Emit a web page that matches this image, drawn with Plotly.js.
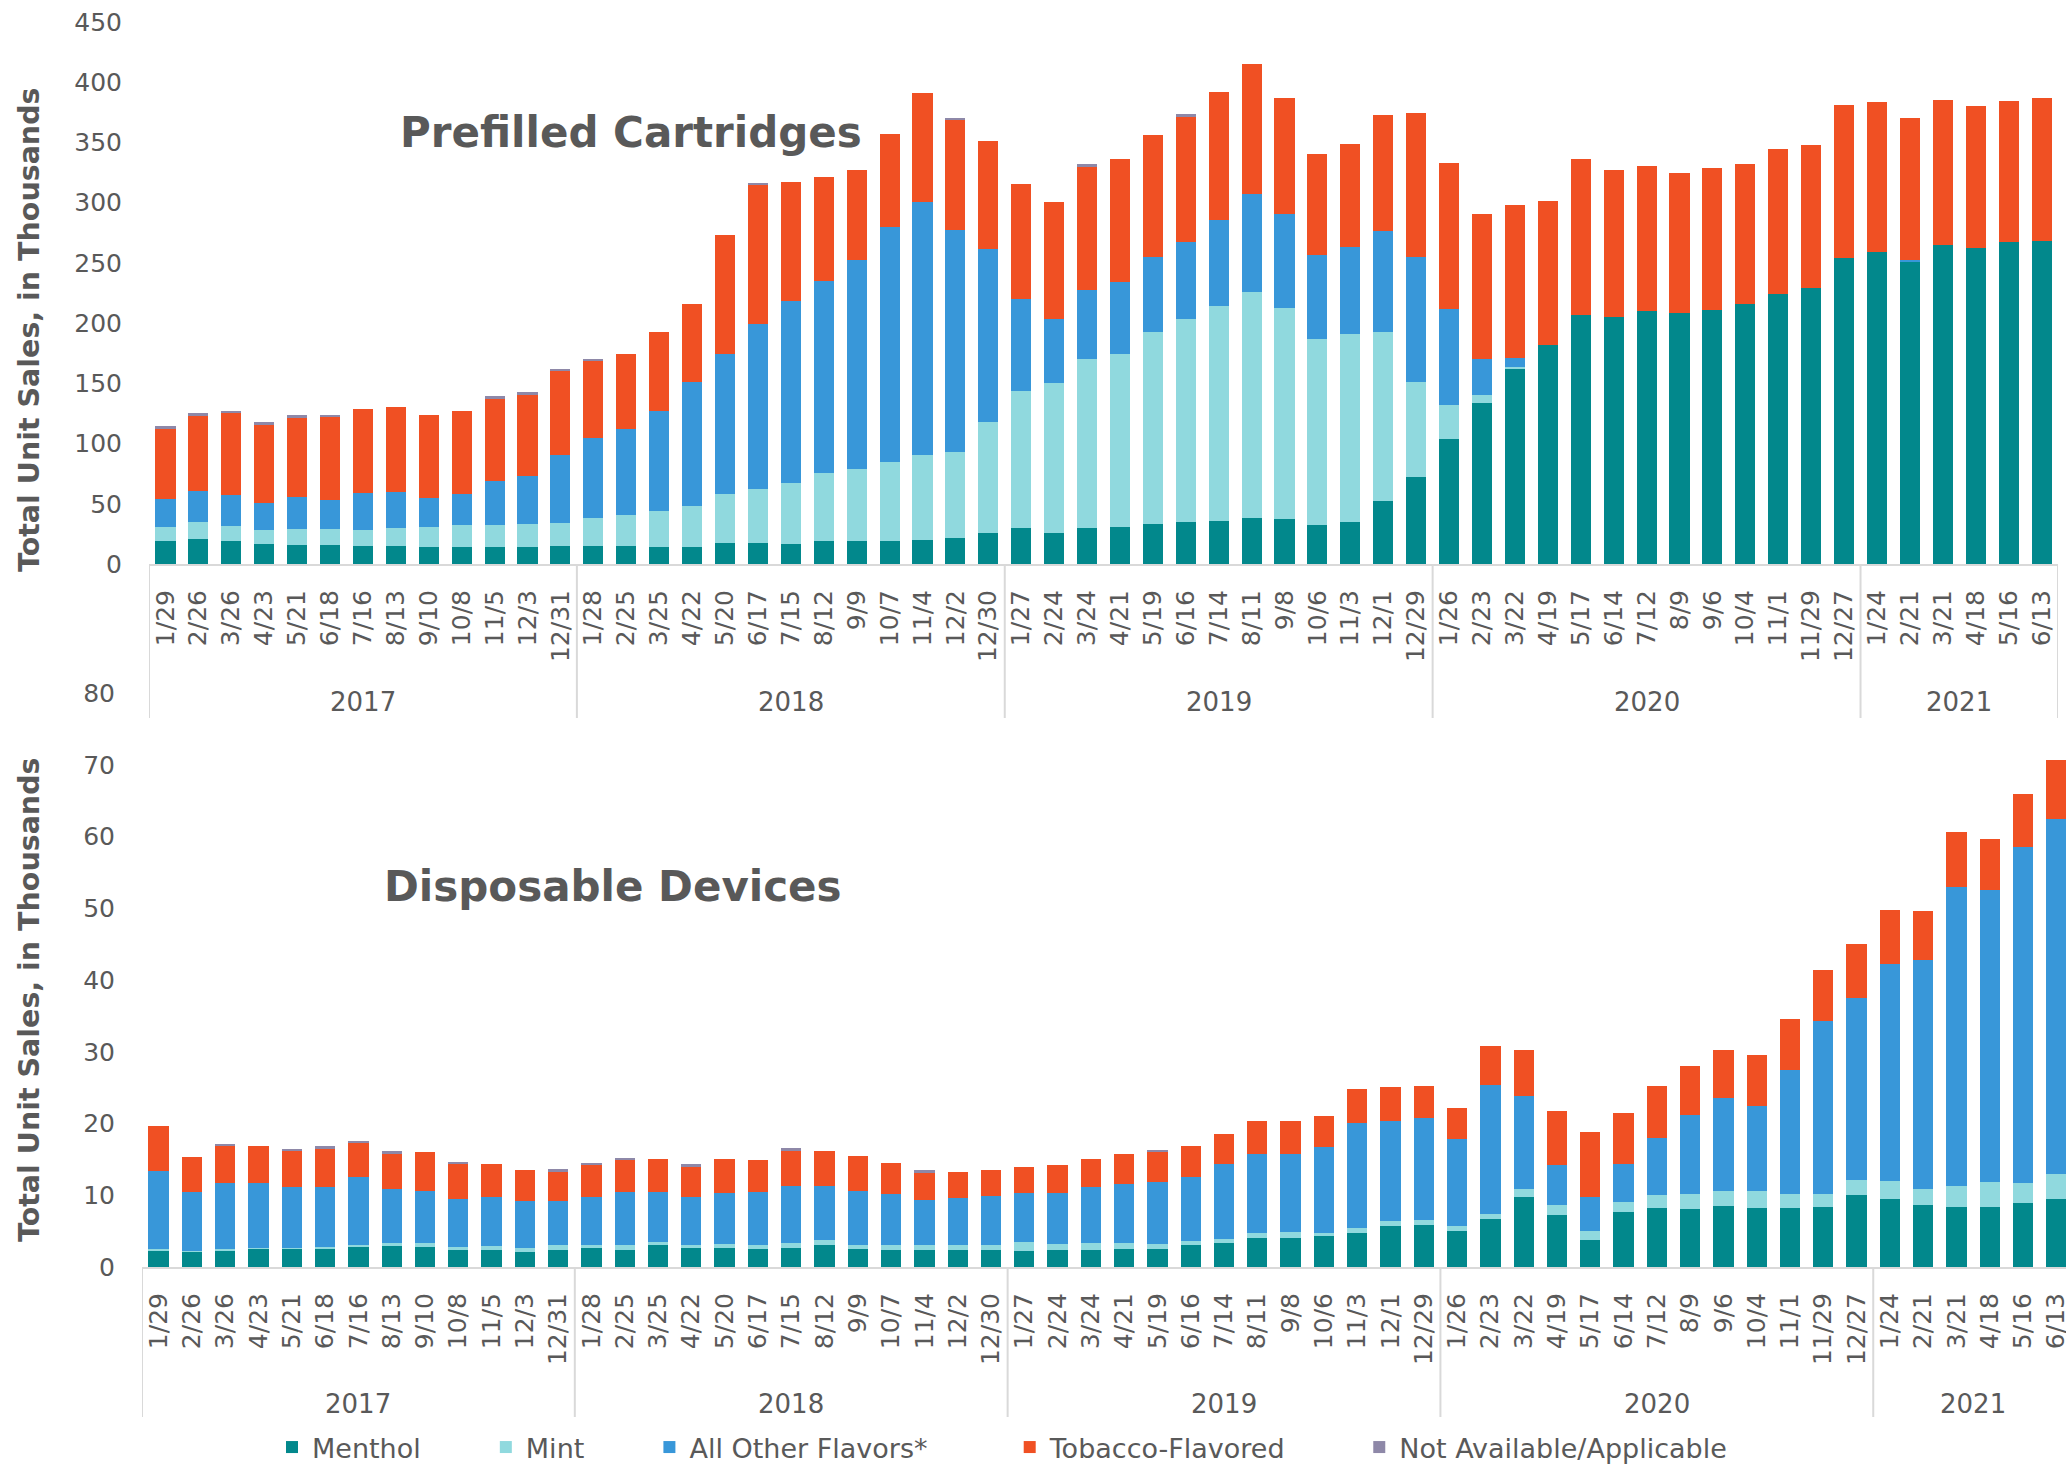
<!DOCTYPE html>
<html>
<head>
<meta charset="utf-8">
<script src="https://cdn.plot.ly/plotly-3.0.1.min.js"></script>
<style>
  html, body { margin: 0; padding: 0; overflow: hidden; background: #fff; width: 2066px; height: 1472px; }
  #wrap { width: 2066px; height: 1472px; overflow: hidden; position: relative; }
  #chart { width: 2080px; height: 1472px; position: absolute; left: 0; top: 0; }
</style>
</head>
<body>
<div id="wrap"><div id="chart"></div></div>
<script>
// ---- Data ----
const weeks = [
  '1/29','2/26','3/26','4/23','5/21','6/18','7/16','8/13','9/10','10/8','11/5','12/3','12/31',
  '1/28','2/25','3/25','4/22','5/20','6/17','7/15','8/12','9/9','10/7','11/4','12/2','12/30',
  '1/27','2/24','3/24','4/21','5/19','6/16','7/14','8/11','9/8','10/6','11/3','12/1','12/29',
  '1/26','2/23','3/22','4/19','5/17','6/14','7/12','8/9','9/6','10/4','11/1','11/29','12/27',
  '1/24','2/21','3/21','4/18','5/16','6/13'
];
const years = ['2017','2018','2019','2020','2021'];
const yearCounts = [13, 13, 13, 13, 6];
const seriesNames = ['Menthol', 'Mint', 'All Other Flavors*', 'Tobacco-Flavored', 'Not Available/Applicable'];

// Prefilled Cartridges (thousands)
const pcMenthol = [
  19.1,21.0,19.5,16.8,15.6,16.0,14.9,14.9,14.5,14.5,14.5,14.5,15.3,
  14.9,14.9,14.5,14.5,17.5,17.2,16.4,19.1,18.7,19.5,20.2,21.4,25.9,
  30.1,25.9,29.7,30.5,33.2,34.7,35.5,38.1,37.0,32.4,35.1,51.9,72.1,
  103.7,133.9,162.1,181.5,207.1,205.2,209.8,208.6,210.9,215.5,223.9,229.2,254.4,
  259.3,251.3,264.7,262.0,267.7,268.5
];
const pcMint = [
  11.8,13.7,12.2,11.4,13.4,13.0,13.7,14.8,16.0,17.9,17.9,18.7,19.0,
  22.9,25.9,29.7,33.9,40.5,45.0,50.7,56.4,59.9,64.8,70.6,71.7,92.3,
  113.3,124.7,140.4,143.8,159.8,168.6,178.8,187.7,175.4,154.5,155.6,140.7,79.3,
  28.6,6.8,1.5,0,0,0,0,0,0,0,0,0,0,
  0,0,0,0,0,0
];
const pcOther = [
  22.9,26.3,25.5,22.5,26.3,24.0,30.5,29.8,24.0,26.0,36.6,40.0,56.1,
  67.1,71.3,83.2,102.6,116.3,136.9,151.1,159.4,173.5,195.6,209.7,183.8,143.1,
  77.0,52.7,57.6,59.9,61.8,64.4,71.4,81.6,78.6,69.4,72.5,83.9,103.4,
  79.4,29.4,7.3,0,0,0,0,0,0,0,0,0,0,
  0,1.2,0,0,0,0
];
const pcTobacco = [
  59.1,62.6,68.7,64.9,66.7,69.8,69.4,70.9,69.5,68.6,68.3,67.9,70.2,
  63.3,62.2,65.6,64.9,98.7,115.2,99.1,86.2,74.8,77.5,90.4,91.9,90.3,
  95.4,96.9,102.2,101.8,101.0,103.8,106.4,107.6,96.1,84.3,85.8,96.1,119.3,
  121.3,120.5,127.3,119.8,128.9,122.0,120.5,116.0,117.9,116.7,120.5,119.0,127.0,
  124.0,118.2,120.9,117.9,116.4,118.2
];
const pcNA = [
  1.5,1.5,1.5,1.9,1.6,1.2,0,0,0,0,2.3,1.5,1.5,
  1.9,0,0,0,0,1.9,0,0,0,0,0,1.5,0,
  0,0,1.9,0,0,2.3,0,0,0,0,0,0,0,
  0,0,0,0,0,0,0,0,0,0,0,0,0,
  0,0,0,0,0,0
];

// Disposable Devices (thousands)
const ddMenthol = [
  2.35,2.1,2.35,2.6,2.55,2.6,2.8,2.9,2.8,2.35,2.35,2.1,2.35,
  2.7,2.4,3.0,2.6,2.6,2.55,2.7,3.0,2.55,2.4,2.4,2.35,2.35,
  2.2,2.4,2.4,2.55,2.5,3.0,3.3,4.1,4.1,4.3,4.8,5.7,5.8,
  5.0,6.7,9.8,7.3,3.7,7.7,8.2,8.1,8.5,8.2,8.2,8.4,10.0,
  9.5,8.6,8.4,8.4,8.9,9.5
];
const ddMint = [
  0.15,0.2,0.1,0.1,0.1,0.15,0.3,0.4,0.5,0.45,0.55,0.5,0.65,
  0.3,0.6,0.5,0.4,0.6,0.45,0.7,0.7,0.45,0.6,0.6,0.65,0.75,
  1.3,0.8,0.9,0.75,0.7,0.6,0.6,0.7,0.8,0.5,0.7,0.7,0.8,
  0.7,0.7,1.1,1.3,1.3,1.3,1.9,2.1,2.1,2.4,2.0,1.8,2.1,
  2.5,2.3,2.9,3.5,2.8,3.5
];
const ddOther = [
  10.9,8.1,9.25,9.0,8.55,8.45,9.4,7.6,7.3,6.7,6.8,6.6,6.2,
  6.7,7.4,7.0,6.7,7.1,7.4,7.9,7.6,7.6,7.2,6.4,6.6,6.8,
  6.8,7.1,7.9,8.2,8.7,9.0,10.4,10.9,10.8,11.9,14.6,14.0,14.1,
  12.1,18.0,13.0,5.6,4.7,5.3,7.9,11.0,13.0,11.9,17.3,24.1,25.4,
  30.3,31.9,41.7,40.6,46.8,49.5
];
const ddTobacco = [
  6.3,4.9,5.1,5.2,5.0,5.3,4.8,4.9,5.4,4.8,4.7,4.3,4.1,
  4.5,4.5,4.6,4.3,4.8,4.5,4.9,4.9,4.9,4.3,3.7,3.6,3.6,
  3.6,3.9,3.9,4.3,4.1,4.2,4.3,4.7,4.6,4.4,4.7,4.7,4.5,
  4.3,5.4,6.4,7.6,9.1,7.1,7.2,6.8,6.7,7.1,7.0,7.1,7.5,
  7.5,6.8,7.6,7.1,7.4,8.1
];
const ddNA = [
  0,0,0.3,0,0.2,0.3,0.3,0.3,0,0.3,0,0,0.3,
  0.3,0.3,0,0.3,0,0,0.4,0,0,0,0.4,0,0,
  0,0,0,0,0.3,0,0,0,0,0,0,0,0,
  0,0,0,0,0,0,0,0,0,0,0,0,0,
  0,0,0,0,0,0
];

// ---- Styling ----
const colors = ['#02888C', '#90D9DE', '#3897D9', '#F05023', '#8E88A8'];
const FONT = 'DejaVu Sans, Verdana, sans-serif';
const TXT = '#595959';
const W = 2080, H = 1472;
const px = v => v / W;          // horizontal pixel -> paper
const py = v => 1 - v / H;      // vertical pixel -> paper
const nb = n => '\u00A0'.repeat(n);
const legendPad = [7, 7, 9, 8, 0];

const pcSeries = [pcMenthol, pcMint, pcOther, pcTobacco, pcNA];
const ddSeries = [ddMenthol, ddMint, ddOther, ddTobacco, ddNA];

const traces = [];
pcSeries.forEach((vals, i) => {
  traces.push({
    type: 'bar', x: weeks, y: vals, name: seriesNames[i],
    legendgroup: 'g' + i, showlegend: false,
    marker: { color: colors[i], line: { width: 0 } },
    xaxis: 'x', yaxis: 'y', hoverinfo: 'y+name'
  });
});
ddSeries.forEach((vals, i) => {
  traces.push({
    type: 'bar', x: weeks, y: vals,
    name: seriesNames[i] + nb(legendPad[i]),
    legendgroup: 'g' + i, showlegend: true,
    marker: { color: colors[i], line: { width: 0 } },
    xaxis: 'x2', yaxis: 'y2', hoverinfo: 'y+name'
  });
});

// Year group boundaries and centers, from yearCounts
const bounds = [-0.5];
const centers = [];
yearCounts.forEach((c, i) => {
  const start = bounds[i];
  bounds.push(start + c);
  centers.push(start + c / 2);
});

const shapes = [];
const annotations = [];
[['x', py(564), py(718), py(702)], ['x2', py(1267), py(1417), py(1404)]].forEach(([xr, y0, y1, ylab]) => {
  bounds.forEach(b => {
    shapes.push({ type: 'line', xref: xr, yref: 'paper', x0: b, x1: b, y0: y0, y1: y1,
      line: { color: '#D9D9D9', width: 2 } });
  });
  years.forEach((yr, i) => {
    annotations.push({ xref: xr, yref: 'paper', x: centers[i], y: ylab, text: yr,
      showarrow: false, xanchor: 'center', yanchor: 'middle',
      font: { family: FONT, size: 26, color: TXT } });
  });
});

// Chart titles
annotations.push({ xref: 'paper', yref: 'paper', x: px(631), y: py(132), text: 'Prefilled Cartridges',
  showarrow: false, xanchor: 'center', yanchor: 'middle',
  font: { family: FONT, size: 42, color: TXT, weight: 700 } });
annotations.push({ xref: 'paper', yref: 'paper', x: px(613), y: py(886), text: 'Disposable Devices',
  showarrow: false, xanchor: 'center', yanchor: 'middle',
  font: { family: FONT, size: 42, color: TXT, weight: 700 } });
// Y-axis titles
annotations.push({ xref: 'paper', yref: 'paper', x: px(29), y: py(330), text: 'Total Unit Sales, in Thousands',
  showarrow: false, textangle: -90, xanchor: 'center', yanchor: 'middle',
  font: { family: FONT, size: 28.5, color: TXT, weight: 700 } });
annotations.push({ xref: 'paper', yref: 'paper', x: px(29), y: py(1000), text: 'Total Unit Sales, in Thousands',
  showarrow: false, textangle: -90, xanchor: 'center', yanchor: 'middle',
  font: { family: FONT, size: 28.5, color: TXT, weight: 700 } });

const xCommon = {
  type: 'category', range: [-0.5, weeks.length - 0.5],
  showline: true, linecolor: '#D9D9D9', linewidth: 2,
  showgrid: false, zeroline: false, ticks: '', tickangle: -90,
  ticklabelstandoff: 14,
  tickfont: { family: FONT, size: 25, color: TXT }, fixedrange: true
};
const yCommon = {
  showline: false, showgrid: false, zeroline: false, ticks: '',
  ticklabelstandoff: 26,
  tickfont: { family: FONT, size: 25, color: TXT }, fixedrange: true
};

const layout = {
  width: W, height: H,
  margin: { l: 0, r: 0, t: 0, b: 0 },
  paper_bgcolor: '#ffffff', plot_bgcolor: 'rgba(0,0,0,0)',
  barmode: 'stack', bargap: 0.39,
  font: { family: FONT, color: TXT },
  xaxis: Object.assign({}, xCommon, { domain: [px(149), px(2058)], anchor: 'y' }),
  yaxis: Object.assign({}, yCommon, { domain: [py(564), py(22)], range: [0, 450], dtick: 50, anchor: 'x' }),
  xaxis2: Object.assign({}, xCommon, { domain: [px(142), px(2073)], anchor: 'y2' }),
  yaxis2: Object.assign({}, yCommon, { domain: [py(1267), py(693)], range: [0, 80], dtick: 10, anchor: 'x2' }),
  showlegend: true,
  legend: {
    orientation: 'h', x: px(272), y: 0, xanchor: 'left', yanchor: 'bottom',
    traceorder: 'normal', font: { family: FONT, size: 27, color: TXT },
    bgcolor: 'rgba(0,0,0,0)', borderwidth: 0
  },
  shapes: shapes,
  annotations: annotations
};

Plotly.newPlot('chart', traces, layout, { displayModeBar: false, responsive: false });
</script>
</body>
</html>
